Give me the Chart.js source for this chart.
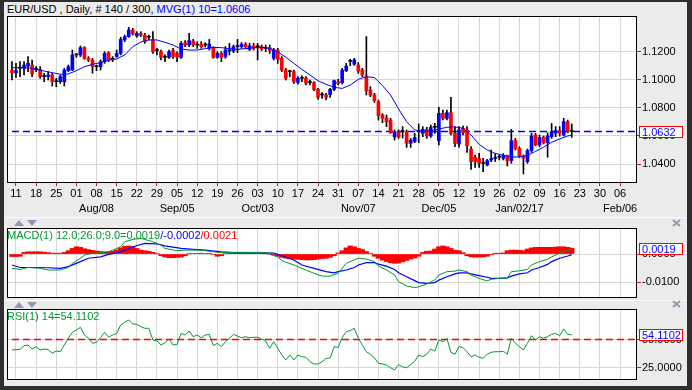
<!DOCTYPE html>
<html>
<head>
<meta charset="utf-8">
<script src="https://cdn.jsdelivr.net/npm/chart.js@4.4.0/dist/chart.umd.min.js"></script>
<style>
  html, body { margin: 0; padding: 0; }
  body { width: 692px; height: 390px; background: #2e2e2e; position: relative; overflow: hidden;
         font-family: "Liberation Sans", Arial, sans-serif; font-size: 11px; }
  #panel { position: absolute; left: 4px; top: 2px; width: 683px; height: 384px; background: #ebebeb; }
  canvas { position: absolute; }
  .lbl { position: absolute; white-space: nowrap; line-height: 12px; }
  .sep { position: absolute; left: 4px; width: 683px; height: 1px; background: #fbfbfb; }
  .up, .down { position: absolute; width: 0; height: 0;
               border-left: 5px solid transparent; border-right: 5px solid transparent; }
  .up { border-bottom: 6px solid #8d99b6; }
  .down { border-top: 6px solid #8d99b6; }
  .close { position: absolute; }
</style>
</head>
<body>
<div id="panel"></div>
<div class="sep" style="top:217px"></div>
<div class="sep" style="top:300px"></div>
<div class="up" style="left:14px;top:220px"></div>
<div class="down" style="left:27px;top:220px"></div>
<div class="up" style="left:14px;top:302px"></div>
<div class="down" style="left:27px;top:302px"></div>
<svg class="close" style="left:672px;top:219px" width="9" height="8"><path d="M1 1L8 7M8 1L1 7" stroke="#8d99b6" stroke-width="2"/></svg>
<svg class="close" style="left:672px;top:300px" width="9" height="8"><path d="M1 1L8 7M8 1L1 7" stroke="#8d99b6" stroke-width="2"/></svg>

<canvas id="mainChart" width="685" height="200" style="left:7px;top:16px"></canvas>
<canvas id="macdChart" width="685" height="70" style="left:7px;top:228px"></canvas>
<canvas id="rsiChart" width="685" height="71" style="left:7px;top:309px"></canvas>

<div class="lbl" id="title" style="left:7px;top:3px"></div>
<div class="lbl" id="macdLabel" style="left:7px;top:229px"></div>
<div class="lbl" id="rsiLabel" style="left:7px;top:310px"></div>

<script>
// EUR/USD daily bars, index 0 = Jul 08 2016
const opens = [
  1.1071, 1.1052, 1.1084, 1.1083, 1.1100, 1.1107, 1.1076, 1.1076, 1.1024, 1.1024,
  1.1036, 1.0988, 1.0988, 1.0988, 1.1067, 1.1071, 1.1179, 1.1179, 1.1231, 1.1155,
  1.1143, 1.1095, 1.1095, 1.1131, 1.1195, 1.1148, 1.1167, 1.1190, 1.1286, 1.1310,
  1.1357, 1.1314, 1.1333, 1.1319, 1.1305, 1.1290, 1.1210, 1.1202, 1.1162, 1.1162,
  1.1210, 1.1190, 1.1162, 1.1267, 1.1250, 1.1279, 1.1250, 1.1255, 1.1250, 1.1226,
  1.1231, 1.1162, 1.1190, 1.1167, 1.1208, 1.1208, 1.1238, 1.1238, 1.1255, 1.1219,
  1.1243, 1.1238, 1.1238, 1.1226, 1.1231, 1.1155, 1.1214, 1.1155, 1.1071, 1.1060,
  1.1060, 1.0983, 1.1012, 1.1012, 1.0981, 1.0981, 1.0933, 1.0893, 1.0893, 1.0895,
  1.0933, 1.0988, 1.0981, 1.1067, 1.1133, 1.1112, 1.1107, 1.1071, 1.1029, 1.0929,
  1.0893, 1.0845, 1.0750, 1.0730, 1.0714, 1.0593, 1.0631, 1.0631, 1.0631, 1.0548,
  1.0560, 1.0631, 1.0619, 1.0648, 1.0600, 1.0662, 1.0567, 1.0762, 1.0726, 1.0767,
  1.0619, 1.0543, 1.0655, 1.0643, 1.0507, 1.0448, 1.0440, 1.0405, 1.0393, 1.0429,
  1.0440, 1.0449, 1.0440, 1.0460, 1.0424, 1.0567, 1.0512, 1.0457, 1.0417, 1.0495,
  1.0607, 1.0536, 1.0590, 1.0552, 1.0595, 1.0621, 1.0638, 1.0607, 1.0702, 1.0632
];
const highs = [
  1.1131, 1.1119, 1.1131, 1.1131, 1.1167, 1.1143, 1.1095, 1.1095, 1.1048, 1.1060,
  1.1048, 1.1012, 1.1036, 1.1083, 1.1107, 1.1214, 1.1190, 1.1243, 1.1238, 1.1167,
  1.1155, 1.1107, 1.1143, 1.1202, 1.1202, 1.1167, 1.1214, 1.1305, 1.1321, 1.1376,
  1.1369, 1.1345, 1.1345, 1.1333, 1.1321, 1.1345, 1.1226, 1.1214, 1.1179, 1.1214,
  1.1226, 1.1202, 1.1274, 1.1281, 1.1333, 1.1290, 1.1274, 1.1274, 1.1267, 1.1290,
  1.1238, 1.1202, 1.1202, 1.1238, 1.1262, 1.1250, 1.1290, 1.1267, 1.1267, 1.1262,
  1.1262, 1.1262, 1.1250, 1.1250, 1.1250, 1.1226, 1.1226, 1.1167, 1.1083, 1.1071,
  1.1071, 1.1024, 1.1029, 1.1024, 1.1000, 1.0988, 1.0940, 1.0910, 1.0905, 1.0940,
  1.1000, 1.1005, 1.1083, 1.1119, 1.1148, 1.1155, 1.1124, 1.1083, 1.1310, 1.0952,
  1.0905, 1.0857, 1.0760, 1.0750, 1.0726, 1.0643, 1.0643, 1.0667, 1.0643, 1.0583,
  1.0619, 1.0686, 1.0667, 1.0662, 1.0679, 1.0690, 1.0805, 1.0786, 1.0786, 1.0876,
  1.0667, 1.0667, 1.0671, 1.0667, 1.0524, 1.0464, 1.0476, 1.0440, 1.0433, 1.0500,
  1.0476, 1.0464, 1.0474, 1.0464, 1.0648, 1.0583, 1.0524, 1.0464, 1.0507, 1.0619,
  1.0619, 1.0607, 1.0600, 1.0624, 1.0690, 1.0667, 1.0667, 1.0726, 1.0714, 1.0686
];
const lows = [
  1.1000, 1.1019, 1.1024, 1.1036, 1.1060, 1.1024, 1.1060, 1.1012, 1.0988, 1.1000,
  1.0957, 1.0952, 1.0976, 1.0957, 1.1060, 1.1067, 1.1162, 1.1167, 1.1148, 1.1131,
  1.1048, 1.1067, 1.1071, 1.1119, 1.1131, 1.1131, 1.1162, 1.1179, 1.1274, 1.1305,
  1.1321, 1.1305, 1.1310, 1.1262, 1.1286, 1.1190, 1.1179, 1.1143, 1.1131, 1.1155,
  1.1155, 1.1131, 1.1155, 1.1238, 1.1238, 1.1238, 1.1226, 1.1226, 1.1235, 1.1214,
  1.1155, 1.1155, 1.1131, 1.1155, 1.1179, 1.1195, 1.1195, 1.1226, 1.1226, 1.1210,
  1.1214, 1.1143, 1.1210, 1.1202, 1.1190, 1.1143, 1.1119, 1.1060, 1.1000, 1.1024,
  1.0976, 1.0971, 1.0988, 1.0964, 1.0964, 1.0924, 1.0862, 1.0869, 1.0857, 1.0876,
  1.0924, 1.0964, 1.0971, 1.1060, 1.1102, 1.1105, 1.1048, 1.1024, 1.0893, 1.0881,
  1.0840, 1.0714, 1.0695, 1.0667, 1.0619, 1.0571, 1.0583, 1.0586, 1.0519, 1.0519,
  1.0552, 1.0552, 1.0595, 1.0583, 1.0590, 1.0619, 1.0536, 1.0714, 1.0714, 1.0607,
  1.0524, 1.0521, 1.0607, 1.0483, 1.0362, 1.0376, 1.0376, 1.0345, 1.0386, 1.0417,
  1.0417, 1.0429, 1.0429, 1.0386, 1.0405, 1.0500, 1.0448, 1.0329, 1.0405, 1.0483,
  1.0531, 1.0524, 1.0543, 1.0448, 1.0583, 1.0595, 1.0600, 1.0600, 1.0624, 1.0590
];
const closes = [
  1.1052, 1.1067, 1.1084, 1.1107, 1.1119, 1.1043, 1.1076, 1.1024, 1.1024, 1.1036,
  1.0988, 1.0988, 1.1024, 1.1071, 1.1095, 1.1179, 1.1179, 1.1231, 1.1155, 1.1143,
  1.1095, 1.1095, 1.1131, 1.1190, 1.1143, 1.1148, 1.1190, 1.1290, 1.1310, 1.1357,
  1.1329, 1.1333, 1.1319, 1.1274, 1.1305, 1.1202, 1.1210, 1.1162, 1.1162, 1.1202,
  1.1167, 1.1162, 1.1262, 1.1250, 1.1281, 1.1250, 1.1250, 1.1238, 1.1250, 1.1257,
  1.1162, 1.1190, 1.1162, 1.1214, 1.1208, 1.1238, 1.1238, 1.1255, 1.1238, 1.1243,
  1.1226, 1.1238, 1.1222, 1.1226, 1.1210, 1.1214, 1.1148, 1.1071, 1.1012, 1.1060,
  1.0988, 1.1012, 1.1012, 1.0976, 1.0981, 1.0933, 1.0876, 1.0893, 1.0876, 1.0933,
  1.0995, 1.0976, 1.1071, 1.1100, 1.1133, 1.1143, 1.1064, 1.1036, 1.0924, 1.0893,
  1.0853, 1.0745, 1.0726, 1.0702, 1.0624, 1.0631, 1.0593, 1.0631, 1.0548, 1.0571,
  1.0590, 1.0631, 1.0648, 1.0600, 1.0662, 1.0662, 1.0762, 1.0726, 1.0767, 1.0619,
  1.0548, 1.0643, 1.0624, 1.0530, 1.0417, 1.0417, 1.0405, 1.0405, 1.0424, 1.0440,
  1.0440, 1.0449, 1.0460, 1.0424, 1.0567, 1.0512, 1.0457, 1.0440, 1.0495, 1.0600,
  1.0536, 1.0590, 1.0552, 1.0600, 1.0631, 1.0638, 1.0621, 1.0702, 1.0631, 1.0632
];

// MVG(1) 10: [bar, value]
const maPoints = [
  [0, 1.1088], [2, 1.1088], [4, 1.1088], [6, 1.1076], [8, 1.1064], [10, 1.1052], [12, 1.1041],
  [14, 1.1043], [16, 1.1067], [18, 1.1095], [20, 1.1112], [22, 1.1124], [24, 1.1143], [26, 1.1150],
  [28, 1.1179], [30, 1.1238], [32, 1.1271], [34, 1.1286], [36, 1.1286], [38, 1.1269], [40, 1.1250],
  [42, 1.1221], [44, 1.1214], [46, 1.1214], [48, 1.1224], [50, 1.1233], [52, 1.1231], [54, 1.1224],
  [56, 1.1219], [58, 1.1224], [60, 1.1231], [62, 1.1233], [64, 1.1226], [66, 1.1202], [68, 1.1162],
  [70, 1.1119], [72, 1.1076], [74, 1.1036], [76, 1.0995], [78, 1.0969], [80, 1.0948], [82, 1.0940],
  [84, 1.0964], [86, 1.1005], [88, 1.1024], [90, 1.1017], [92, 1.0960], [94, 1.0893], [96, 1.0793],
  [98, 1.0702], [100, 1.0643], [102, 1.0631], [104, 1.0638], [106, 1.0650], [108, 1.0662],
  [110, 1.0665], [112, 1.0655], [114, 1.0607], [116, 1.0540], [118, 1.0500], [120, 1.0476],
  [122, 1.0462], [124, 1.0450], [126, 1.0450], [128, 1.0462], [130, 1.0490], [132, 1.0520],
  [134, 1.0555], [136, 1.0579], [138, 1.0600], [139, 1.0606]
];

// MACD(1) 12;26;9 panel
const macdLine = [
  [0, -0.0051], [2, -0.0055], [4, -0.0048], [7, -0.0051], [9, -0.0057], [12, -0.0057], [14, -0.0048],
  [15, -0.0033], [17, -0.0015], [18, -0.0004], [20, 0.0003], [22, 0.0004], [24, 0.0008], [27, 0.0026],
  [28, 0.0044], [30, 0.0052], [32, 0.0056], [33, 0.0052], [35, 0.0044], [37, 0.0032], [38, 0.0020],
  [41, 0.0012], [43, 0.0014], [46, 0.0014], [48, 0.0012], [51, 0.0006], [53, 0.0006], [56, 0.0006],
  [58, 0.0006], [62, 0.0006], [63, 0.0005], [66, -0.0010], [67, -0.0024], [70, -0.0039], [72, -0.0051],
  [75, -0.0069], [77, -0.0079], [79, -0.0079], [81, -0.0069], [82, -0.0051], [83, -0.0033],
  [85, -0.0021], [86, -0.0015], [88, -0.0018], [90, -0.0027], [91, -0.0043], [93, -0.0057],
  [95, -0.0075], [96, -0.0099], [98, -0.0114], [100, -0.0120], [101, -0.0117], [103, -0.0107],
  [105, -0.0093], [106, -0.0075], [108, -0.0063], [110, -0.0061], [111, -0.0057], [113, -0.0063],
  [114, -0.0075], [116, -0.0087], [118, -0.0096], [119, -0.0090], [121, -0.0087], [123, -0.0085],
  [124, -0.0063], [126, -0.0060], [128, -0.0055], [129, -0.0039], [131, -0.0027], [133, -0.0019],
  [134, -0.0010], [136, 0.0003], [138, 0.0014], [139, 0.0019]
];
const signalLine = [
  [0, -0.0039], [2, -0.0048], [5, -0.0048], [9, -0.0049], [12, -0.0051], [14, -0.0045], [17, -0.0027],
  [19, -0.0015], [22, -0.0010], [24, -0.0001], [27, 0.0008], [30, 0.0026], [33, 0.0038], [36, 0.0036],
  [38, 0.0029], [42, 0.0020], [45, 0.0017], [48, 0.0014], [52, 0.0008], [55, 0.0005], [60, 0.0005],
  [65, 0.0003], [67, -0.0006], [70, -0.0021], [72, -0.0039], [75, -0.0051], [78, -0.0063],
  [80, -0.0067], [81, -0.0063], [83, -0.0057], [85, -0.0048], [86, -0.0039], [88, -0.0031],
  [90, -0.0031], [91, -0.0036], [93, -0.0043], [95, -0.0055], [96, -0.0067], [98, -0.0081],
  [100, -0.0095], [101, -0.0102], [103, -0.0105], [105, -0.0102], [106, -0.0093], [108, -0.0081],
  [110, -0.0071], [111, -0.0067], [113, -0.0067], [114, -0.0071], [116, -0.0077], [118, -0.0083],
  [119, -0.0087], [121, -0.0087], [123, -0.0085], [124, -0.0079], [126, -0.0071], [128, -0.0067],
  [129, -0.0057], [131, -0.0048], [133, -0.0037], [134, -0.0027], [136, -0.0015], [138, -0.0007],
  [139, -0.0002]
];
const histogram = [
  -0.0009, -0.0009, -0.0008, 0.0006, 0.0008, 0.0008, 0.0008, 0.0008, 0.0007, 0.0005,
  0.0003, 0.0003, 0.0003, 0.0006, 0.0012, 0.0020, 0.0026, 0.0024, 0.0019, 0.0016,
  0.0013, 0.0011, 0.0009, 0.0008, 0.0008, 0.0010, 0.0015, 0.0022, 0.0028, 0.0029,
  0.0026, 0.0020, 0.0014, 0.0012, 0.0010, 0.0006, 0.0001, -0.0006, -0.0011, -0.0013,
  -0.0013, -0.0012, -0.0011, -0.0006, 0.0001, 0.0002, 0.0002, 0.0003, 0.0002, 0.0001,
  -0.0002, -0.0008, -0.0006, 0.0002, 0.0003, 0.0003, 0.0003, 0.0003, 0.0003, 0.0003,
  0.0003, 0.0002, 0.0002, 0.0001, 0.0000, -0.0004, -0.0008, -0.0012, -0.0015, -0.0017,
  -0.0018, -0.0019, -0.0020, -0.0021, -0.0021, -0.0020, -0.0018, -0.0016, -0.0015, -0.0012,
  -0.0006, 0.0004, 0.0012, 0.0022, 0.0029, 0.0026, 0.0020, 0.0016, 0.0009, 0.0002,
  -0.0008, -0.0015, -0.0022, -0.0027, -0.0031, -0.0033, -0.0032, -0.0028, -0.0023, -0.0018,
  -0.0014, -0.0008, 0.0006, 0.0010, 0.0011, 0.0018, 0.0026, 0.0029, 0.0026, 0.0020,
  0.0014, 0.0012, 0.0005, -0.0006, -0.0010, -0.0011, -0.0011, -0.0010, -0.0008, -0.0003,
  0.0003, 0.0003, 0.0004, 0.0012, 0.0014, 0.0014, 0.0013, 0.0012, 0.0018, 0.0022,
  0.0024, 0.0024, 0.0024, 0.0024, 0.0024, 0.0025, 0.0026, 0.0026, 0.0024, 0.0021
];

// RSI(1) 14
const rsiLine = [
  [0, 40.6], [2, 41.2], [3, 44.5], [4, 45.1], [5, 41.5], [6, 43.6], [7, 40.6], [8, 41.5], [9, 41.0],
  [10, 37.7], [11, 39.7], [12, 39.1], [13, 45.1], [14, 51.1], [15, 56.4], [16, 58.5], [17, 60.9],
  [18, 54.0], [19, 51.1], [20, 46.6], [21, 47.5], [22, 51.6], [23, 56.4], [24, 52.0], [25, 54.0],
  [26, 55.5], [27, 62.9], [28, 65.4], [29, 67.4], [30, 63.8], [31, 63.6], [32, 61.4], [33, 60.0],
  [34, 60.0], [35, 49.6], [36, 48.7], [37, 45.1], [38, 47.1], [39, 50.4], [40, 45.1], [41, 45.7],
  [42, 55.5], [43, 54.0], [44, 57.6], [45, 52.5], [46, 54.0], [47, 51.6], [48, 54.0], [49, 54.5],
  [50, 44.5], [51, 46.6], [52, 43.6], [53, 48.0], [54, 51.1], [55, 54.6], [56, 53.0], [57, 51.6],
  [58, 52.5], [59, 51.6], [60, 52.0], [61, 52.0], [62, 50.4], [63, 48.7], [64, 42.1], [65, 48.0],
  [66, 42.1], [67, 36.2], [68, 31.7], [69, 36.2], [70, 31.7], [71, 36.2], [72, 34.6], [73, 34.1],
  [74, 30.2], [75, 28.1], [76, 28.1], [77, 30.2], [78, 33.2], [79, 33.5], [80, 43.6], [81, 43.0],
  [82, 51.6], [83, 57.0], [84, 58.0], [85, 60.0], [86, 51.1], [87, 45.1], [88, 39.1], [89, 36.8],
  [90, 33.8], [91, 28.8], [92, 28.1], [93, 27.2], [94, 24.8], [95, 22.8], [96, 27.5], [97, 25.7],
  [98, 24.8], [99, 27.5], [100, 30.5], [101, 36.2], [102, 34.6], [103, 36.8], [104, 41.5],
  [105, 39.7], [106, 49.6], [107, 48.0], [108, 51.1], [109, 38.5], [110, 36.8], [111, 43.6],
  [112, 42.7], [113, 39.1], [114, 34.6], [115, 36.2], [116, 34.1], [117, 33.2], [118, 36.8],
  [119, 38.6], [120, 39.1], [121, 39.1], [122, 39.5], [123, 36.8], [124, 51.1], [125, 46.6],
  [126, 43.6], [127, 40.6], [128, 46.6], [129, 53.4], [130, 49.6], [131, 52.5], [132, 51.1],
  [133, 52.5], [134, 54.6], [135, 55.5], [136, 53.4], [137, 59.4], [138, 54.6], [139, 54.1102]
];

// weekly date ticks (Mondays), first one is bar 1
const dayLabels = ['11', '18', '25', '01', '08', '15', '22', '29', '05', '12', '19', '26', '03', '10', '17',
  '24', '31', '07', '14', '21', '28', '05', '12', '19', '26', '02', '09', '16', '23', '30', '06'];
const monthLabels = ['', '', '', '', 'Aug/08', '', '', '', 'Sep/05', '', '', '', 'Oct/03', '', '', '', '',
  'Nov/07', '', '', '', 'Dec/05', '', '', '', 'Jan/02/17', '', '', '', '', 'Feb/06'];

const priceTicks = [1.04, 1.06, 1.08, 1.10, 1.12];
const macdTicks = [-0.01, 0];
const rsiTicks = [25, 50];
const rsiMid = 50;

const X_MIN = -1.23, X_MAX = 155.2;
const GRID = '#d6d6d6';
const BLUE = '#0000ff', RED = '#ff0000', GREEN = '#009933';

Chart.defaults.font.family = '"Liberation Sans", Arial, sans-serif';
Chart.defaults.font.size = 11;
Chart.defaults.color = '#000';

const pairs = (arr) => arr.map(([x, y]) => ({ x, y }));
const bars = closes.map((_, i) => i);
const lastClose = closes[closes.length - 1];
const lastMa = maPoints[maPoints.length - 1][1];
const lastMacd = macdLine[macdLine.length - 1][1];
const lastSignal = signalLine[signalLine.length - 1][1];
const lastHist = histogram[histogram.length - 1];
const lastRsi = rsiLine[rsiLine.length - 1][1];

document.getElementById('title').innerHTML =
  `EUR/USD , Daily, # ${closes.length} / 300, <span style="color:${BLUE}">MVG(1) 10=${lastMa.toFixed(4)}</span>`;
document.getElementById('macdLabel').innerHTML =
  `<span style="color:${GREEN}">MACD(1) 12.0;26.0;9.0=${lastMacd.toFixed(4)}</span>` +
  `<span style="color:${BLUE}">/${lastSignal.toFixed(4)}</span>` +
  `<span style="color:${RED}">/${lastHist.toFixed(4)}</span>`;
document.getElementById('rsiLabel').innerHTML =
  `<span style="color:${GREEN}">RSI(1) 14=${lastRsi.toFixed(4)}</span>`;

// white plot area, black frame and the boxed last value on the right axis
const panelFrame = {
  id: 'panelFrame',
  beforeDraw(chart) {
    const { ctx, chartArea: a } = chart;
    ctx.save();
    ctx.fillStyle = '#fff';
    ctx.fillRect(a.left, a.top, a.width, a.height);
    ctx.restore();
  },
  afterDraw(chart, args, opts) {
    const { ctx, chartArea: a } = chart;
    ctx.save();
    ctx.strokeStyle = '#000';
    ctx.lineWidth = 1;
    ctx.strokeRect(a.left + 0.5, a.top + 0.5, a.width - 1, a.height - 1);
    if (opts.boxValue != null) {
      const y = Math.round(chart.scales.y.getPixelForValue(opts.boxValue));
      const x = a.right + 2;
      ctx.fillStyle = '#fff';
      ctx.fillRect(x, y - 6, 44, 12);
      ctx.strokeStyle = RED;
      ctx.strokeRect(x + 0.5, y - 5.5, 43, 11);
      ctx.fillStyle = BLUE;
      ctx.font = '11px "Liberation Sans", Arial, sans-serif';
      ctx.textBaseline = 'middle';
      ctx.fillText(opts.boxValue.toFixed(4), x + 3, y + 0.5);
    }
    ctx.restore();
  }
};

const timeAxis = (showLabels) => ({
  type: 'linear',
  min: X_MIN,
  max: X_MAX,
  offset: false,
  afterBuildTicks: (scale) => { scale.ticks = dayLabels.map((_, k) => ({ value: 1 + 5 * k })); },
  afterFit: (scale) => {
    scale.height = showLabels ? 33 : 0;
    scale.paddingLeft = 0;
    scale.paddingRight = 0;
  },
  grid: { color: GRID, offset: false, drawTicks: showLabels, tickLength: 3, tickColor: RED },
  border: { display: false },
  ticks: {
    display: showLabels,
    autoSkip: false,
    maxRotation: 0,
    minRotation: 0,
    padding: 0,
    font: { size: 11, lineHeight: 1.4 },
    callback: (value, k) => (monthLabels[k] ? [dayLabels[k], monthLabels[k]] : dayLabels[k]),
  },
});

const valueAxis = (min, max, ticks) => ({
  type: 'linear',
  position: 'right',
  min,
  max,
  afterBuildTicks: (scale) => { scale.ticks = ticks.map((v) => ({ value: v })); },
  afterFit: (scale) => {
    scale.width = 55;
    scale.paddingTop = 0;
    scale.paddingBottom = 0;
  },
  grid: { color: GRID, drawTicks: true, tickLength: 4, tickColor: RED },
  border: { display: false },
  ticks: { padding: 1, font: { size: 11 }, callback: (v) => Number(v).toFixed(4) },
});

const baseOptions = (scales, boxValue) => ({
  responsive: false,
  animation: false,
  events: [],
  layout: { padding: 0, autoPadding: false },
  plugins: { legend: { display: false }, tooltip: { enabled: false }, panelFrame: { boxValue } },
  scales,
});

new Chart(document.getElementById('mainChart'), {
  type: 'bar',
  data: {
    datasets: [
      {
        type: 'line',
        label: 'MVG(1) 10',
        data: pairs(maPoints),
        borderColor: BLUE,
        borderWidth: 1,
        pointRadius: 0,
        tension: 0,
        order: 1,
      },
      {
        label: 'body',
        data: bars.map((i) => ({ x: i, y: [opens[i], closes[i]] })),
        backgroundColor: bars.map((i) => (closes[i] > opens[i] ? BLUE : closes[i] < opens[i] ? RED : '#000')),
        barThickness: 3,
        minBarLength: 1,
        grouped: false,
        order: 2,
      },
      {
        label: 'wick',
        data: bars.map((i) => ({ x: i, y: [lows[i], highs[i]] })),
        backgroundColor: '#000',
        barThickness: 1,
        grouped: false,
        order: 3,
      },
      {
        type: 'line',
        label: 'last',
        data: [{ x: 0, y: lastClose }, { x: X_MAX, y: lastClose }],
        borderColor: BLUE,
        borderWidth: 1.5,
        borderDash: [7, 4],
        pointRadius: 0,
        order: 4,
      },
    ],
  },
  options: baseOptions({ x: timeAxis(true), y: valueAxis(1.02643, 1.14571, priceTicks) }, lastClose),
  plugins: [panelFrame],
});

new Chart(document.getElementById('macdChart'), {
  type: 'bar',
  data: {
    datasets: [
      {
        type: 'line',
        label: 'MACD',
        data: pairs(macdLine),
        borderColor: GREEN,
        borderWidth: 1,
        pointRadius: 0,
        tension: 0,
        order: 1,
      },
      {
        type: 'line',
        label: 'Signal',
        data: pairs(signalLine),
        borderColor: BLUE,
        borderWidth: 1.2,
        pointRadius: 0,
        tension: 0,
        order: 2,
      },
      {
        label: 'Histogram',
        data: histogram.map((v, i) => ({ x: i, y: v })),
        backgroundColor: RED,
        barThickness: 4.6,
        grouped: false,
        order: 3,
      },
    ],
  },
  options: baseOptions({ x: timeAxis(false), y: valueAxis(-0.0157, 0.0093, macdTicks) }, lastMacd),
  plugins: [panelFrame],
});

new Chart(document.getElementById('rsiChart'), {
  type: 'line',
  data: {
    datasets: [
      {
        label: 'RSI',
        data: pairs(rsiLine),
        borderColor: GREEN,
        borderWidth: 1,
        pointRadius: 0,
        tension: 0,
        order: 1,
      },
      {
        label: 'mid',
        data: [{ x: 0, y: rsiMid }, { x: X_MAX, y: rsiMid }],
        borderColor: RED,
        borderWidth: 1.5,
        borderDash: [7, 4],
        pointRadius: 0,
        order: 2,
      },
    ],
  },
  options: baseOptions({ x: timeAxis(false), y: valueAxis(13.84, 77.23, rsiTicks) }, lastRsi),
  plugins: [panelFrame],
});
</script>
</body>
</html>
